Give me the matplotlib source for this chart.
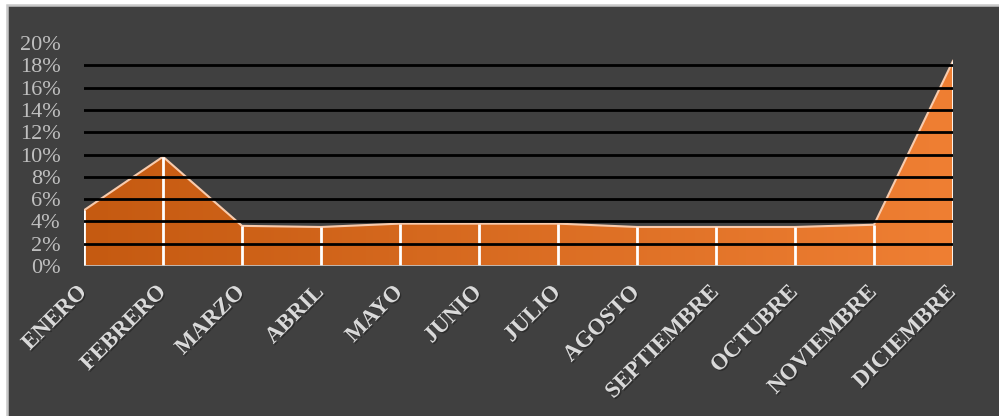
import matplotlib
matplotlib.use("Agg")
import matplotlib.pyplot as plt
import matplotlib.patheffects as pe
import matplotlib.transforms as mtransforms
from matplotlib.patches import Rectangle
from matplotlib.colors import LinearSegmentedColormap
import numpy as np

months = ['ENERO', 'FEBRERO', 'MARZO', 'ABRIL', 'MAYO', 'JUNIO', 'JULIO',
          'AGOSTO', 'SEPTIEMBRE', 'OCTUBRE', 'NOVIEMBRE', 'DICIEMBRE']
share = [5.0, 9.8, 3.6, 3.5, 3.8, 3.8, 3.8, 3.5, 3.5, 3.5, 3.7, 18.4]
y_ticks = [0, 2, 4, 6, 8, 10, 12, 14, 16, 18, 20]

W, H = 999, 416
fig = plt.figure(figsize=(W / 100, H / 100), dpi=100, facecolor='white')

# background frame
bg = fig.add_axes([0, 0, 1, 1], zorder=-1)
bg.set_xlim(0, W)
bg.set_ylim(H, 0)
bg.axis('off')
bg.add_patch(Rectangle((7, 5), W + 20, H + 20, facecolor='#404040',
                       edgecolor='#C8C8C8', linewidth=1.8))

ax = fig.add_axes([84 / W, 1 - 266 / H, (953 - 84) / W, (266 - 43) / H])
ax.set_facecolor('none')
x = np.arange(len(months))
y = np.array(share)

# gradient fill clipped to the area
poly = ax.fill_between(x, 0, y, facecolor='none', edgecolor='none')
cmap = LinearSegmentedColormap.from_list('o', ['#C55A11', '#EF7F33'])
grad = np.linspace(0, 1, 256).reshape(1, -1)
img = ax.imshow(grad, extent=[0, 11, 0, 20], aspect='auto', cmap=cmap,
                origin='lower', zorder=1)
img.set_clip_path(poly.get_paths()[0], transform=ax.transData)
ax.plot(x, y, color='#F8CBAD', lw=1.5, zorder=2)

# drop lines
ax.vlines(x, 0, y, color='white', lw=2, zorder=3)

# gridlines
for t in y_ticks[1:-1]:
    ax.axhline(t, color='black', lw=2, zorder=4)
ax.axhline(0, color='#BFBFBF', lw=2, zorder=5)

ax.set_xlim(0, 11)
ax.set_ylim(0, 20)
for s in ax.spines.values():
    s.set_visible(False)

ax.set_yticks(y_ticks)
ax.set_yticklabels([f'{t}%' for t in y_ticks], family='Liberation Serif',
                   fontsize=16, color='#BFBFBF')
ax.tick_params(axis='y', length=0, pad=17)

ax.set_xticks(x)
ax.set_xticklabels([])
ax.tick_params(axis='x', length=0)
off = mtransforms.ScaledTranslation(-8 / 100, -16 / 100, fig.dpi_scale_trans)
for i, m in enumerate(months):
    ax.text(i, 0, m, rotation=45, rotation_mode='anchor',
            transform=ax.get_xaxis_transform() + off,
            ha='right', va='top', family='Liberation Serif', weight='bold',
            fontsize=16.5, color='#D9D9D9',
            path_effects=[pe.withSimplePatchShadow(offset=(1, -1),
                                                   shadow_rgbFace='#202020',
                                                   alpha=0.6)])

fig.savefig('out.png', dpi=100, facecolor='white')
